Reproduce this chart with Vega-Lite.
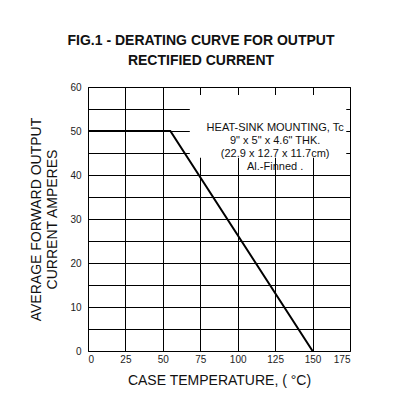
{
  "$schema": "https://vega.github.io/schema/vega-lite/v6.json",
  "autosize": "none",
  "width": 262,
  "height": 264,
  "padding": {"left": 88, "top": 87, "right": 44, "bottom": 54},
  "background": "white",
  "config": {
    "font": "Liberation Sans",
    "view": {"stroke": "black", "strokeWidth": 1},
    "axis": {"grid": true, "gridColor": "black", "gridOpacity": 1, "gridWidth": 1, "ticks": false, "domain": false, "labelFont": "Liberation Sans", "labelFontSize": 10, "labelColor": "#222", "titleFont": "Liberation Sans", "titleFontSize": 14, "titleFontWeight": "normal", "titleColor": "#111"}
  },
  "title": {
    "text": ["FIG.1 - DERATING CURVE FOR OUTPUT", "RECTIFIED CURRENT"],
    "anchor": "middle",
    "frame": "group",
    "dx": -18,
    "fontSize": 14,
    "fontWeight": "bold",
    "font": "Liberation Sans",
    "color": "#111",
    "lineHeight": 20,
    "offset": 14
  },
  "datasets": {
    "curve": [
      {"temp": 0, "amps": 50},
      {"temp": 55, "amps": 50},
      {"temp": 150, "amps": 0}
    ],
    "box": [
      {"temp": 68, "temp2": 172.5, "amps": 43.9, "amps2": 58.2}
    ],
    "note": [
      {"temp": 125, "amps": 50.7, "label": "HEAT-SINK MOUNTING, Tc\n9\" x 5\" x 4.6\" THK.\n(22.9 x 12.7 x 11.7cm)\nAl.-Finned ."}
    ]
  },
  "encoding": {
    "x": {"field": "temp", "type": "quantitative", "scale": {"domain": [0, 175], "nice": false},
      "axis": {"grid": true, "values": [0, 25, 50, 75, 100, 125, 150, 175], "labelOverlap": false, "title": "CASE TEMPERATURE, ( °C)", "labelPadding": 3, "titlePadding": 9}},
    "y": {"field": "amps", "type": "quantitative", "scale": {"domain": [0, 60], "nice": false},
      "axis": {"grid": true, "values": [0, 5, 10, 15, 20, 25, 30, 35, 40, 45, 50, 55, 60], "labelOverlap": false, "labelExpr": "datum.value % 10 === 0 ? datum.label : ''", "title": ["AVERAGE FORWARD OUTPUT", "CURRENT AMPERES"], "titleLineHeight": 16, "labelPadding": 7, "titlePadding": 10}}
  },
  "layer": [
    {
      "data": {"name": "box"},
      "mark": {"type": "rect", "fill": "white", "stroke": null},
      "encoding": {
        "x2": {"field": "temp2"},
        "y2": {"field": "amps2"}
      }
    },
    {
      "data": {"name": "curve"},
      "mark": {"type": "line", "color": "black", "strokeWidth": 2}
    },
    {
      "data": {"name": "note"},
      "mark": {"type": "text", "fontSize": 11, "font": "Liberation Sans", "color": "#111", "lineBreak": "\n", "lineHeight": 13, "align": "center", "baseline": "middle"},
      "encoding": {
        "text": {"field": "label"}
      }
    }
  ]
}
